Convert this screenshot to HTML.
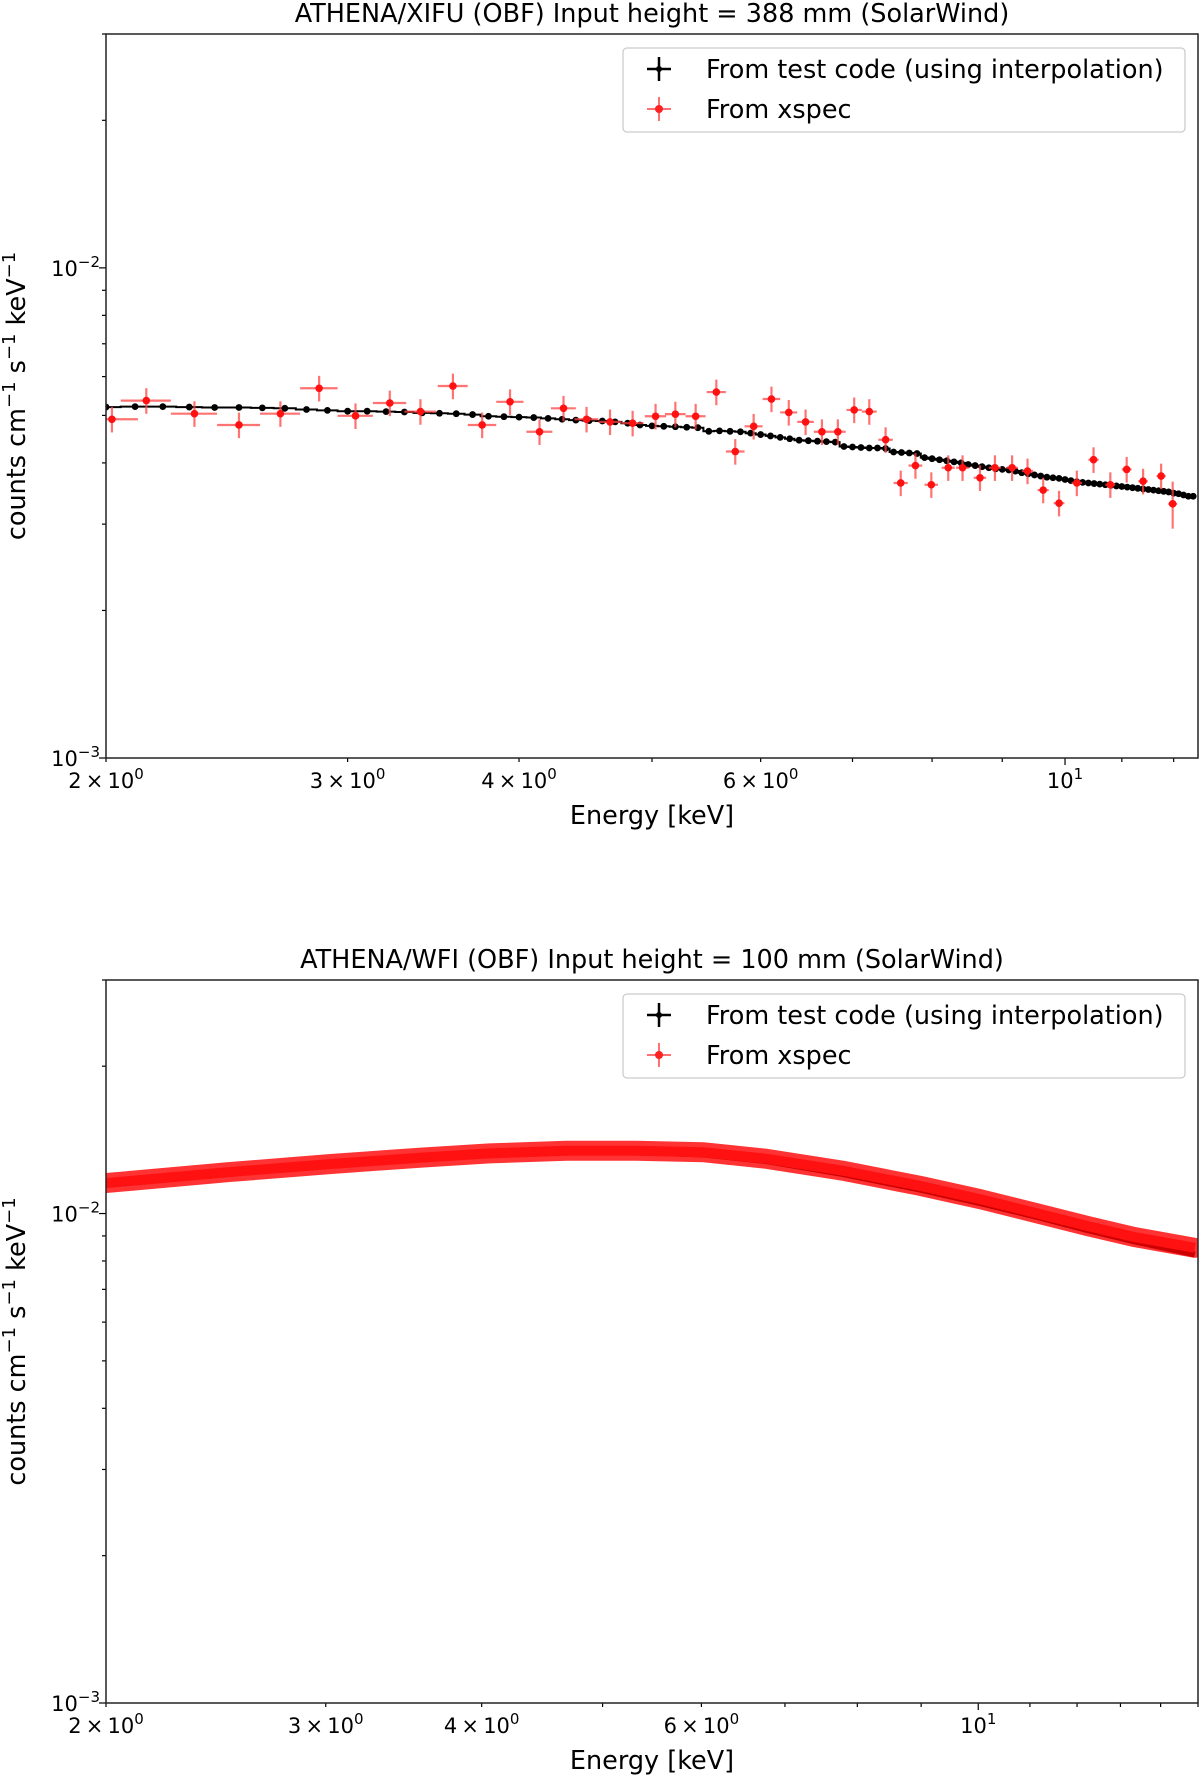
<!DOCTYPE html>
<html><head><meta charset="utf-8">
<style>
html,body{margin:0;padding:0;background:#fff;}
svg{display:block;font-family:"DejaVu Sans","Liberation Sans",sans-serif;}
</style></head>
<body>
<svg id="fig" width="1200" height="1777" viewBox="0 0 1200 1777" xmlns="http://www.w3.org/2000/svg"></svg>
<script>
// ---------- Data: top panel (XIFU) ----------
const xifuBlackE = [2.0,2.1,2.2,2.3,2.4,2.5,2.6,2.7,2.8,2.9,3.0,3.1,3.2,3.3,3.4,3.5,3.6,3.7,3.8,3.9,4.0,4.1,4.2,4.3,4.4,4.5,4.6,4.7,4.8,4.9,5.0,5.1,5.2,5.3,5.4,5.5,5.6,5.7,5.8,5.9,6.0,6.1,6.2,6.3,6.4,6.5,6.6,6.7,6.8,6.9,7.0,7.1,7.2,7.3,7.4,7.5,7.6,7.7,7.8,7.9,8.0,8.1,8.2,8.3,8.4,8.5,8.6,8.7,8.8,8.9,9.0,9.1,9.2,9.3,9.4,9.5,9.6,9.7,9.8,9.9,10.0,10.1,10.2,10.3,10.4,10.5,10.6,10.7,10.8,10.9,11.0,11.1,11.2,11.3,11.4,11.5,11.6,11.7,11.8,11.9,12.0,12.1,12.2,12.3,12.4];
const xifuBlackV = [5.20,5.21,5.21,5.20,5.19,5.19,5.18,5.17,5.14,5.12,5.10,5.10,5.09,5.08,5.06,5.05,5.04,5.02,4.98,4.97,4.96,4.95,4.93,4.91,4.89,4.88,4.87,4.85,4.82,4.78,4.76,4.75,4.74,4.73,4.72,4.64,4.65,4.64,4.63,4.60,4.57,4.54,4.51,4.48,4.45,4.44,4.43,4.42,4.41,4.32,4.31,4.30,4.29,4.29,4.28,4.21,4.20,4.19,4.18,4.10,4.08,4.06,4.04,4.02,4.00,3.97,3.95,3.93,3.91,3.89,3.88,3.87,3.85,3.82,3.80,3.78,3.76,3.74,3.73,3.72,3.70,3.68,3.66,3.65,3.64,3.63,3.62,3.61,3.60,3.59,3.58,3.57,3.56,3.55,3.54,3.53,3.52,3.51,3.50,3.49,3.47,3.46,3.44,3.42,3.42];
const xifuRedE = [2.02,2.14,2.32,2.50,2.68,2.86,3.04,3.22,3.39,3.58,3.76,3.94,4.14,4.31,4.48,4.66,4.84,5.03,5.20,5.38,5.57,5.75,5.93,6.11,6.29,6.47,6.65,6.83,7.02,7.20,7.40,7.59,7.78,7.99,8.22,8.42,8.67,8.89,9.15,9.39,9.64,9.90,10.20,10.49,10.79,11.09,11.40,11.75,11.98];
const xifuRedV = [4.91,5.36,5.04,4.78,5.04,5.68,4.99,5.30,5.09,5.74,4.78,5.33,4.63,5.17,4.91,4.85,4.82,4.98,5.03,4.98,5.58,4.22,4.75,5.40,5.07,4.85,4.63,4.63,5.13,5.09,4.46,3.64,3.95,3.61,3.91,3.91,3.73,3.91,3.91,3.85,3.52,3.31,3.64,4.06,3.61,3.88,3.67,3.76,3.30];
const xifuRedXErr = 0.09;
const xifuRedYErrFrac = 0.06;

// ---------- Data: bottom panel (WFI) ----------
const wfiE = [2.00,2.51,3.02,3.58,4.06,4.68,5.32,6.03,6.76,7.78,8.97,10.04,11.08,12.23,13.32,14.91];
const wfiRedV = [11.54,12.15,12.62,13.01,13.27,13.44,13.44,13.34,12.94,12.24,11.40,10.70,10.05,9.43,8.96,8.51];
const wfiBlackV = [11.45,12.05,12.52,12.92,13.18,13.35,13.35,13.20,12.80,12.05,11.20,10.50,9.88,9.25,8.78,8.25];

const xMajorTicks = [10];
const xMajorLabels = ["10", "1"];
const xMinorLabeled = [2,3,4,6];
const yMajor = [0.001, 0.01];
const yMajorExp = ["\u22123","\u22122"];

const NS = "http://www.w3.org/2000/svg";
const svg = document.getElementById('fig');
function mk(tag, attrs, parent){
  const e = document.createElementNS(NS, tag);
  for (const k in attrs) e.setAttribute(k, attrs[k]);
  (parent||svg).appendChild(e);
  return e;
}

function panel(cfg){
  const g = mk('g', {});
  
  
  const L=106, R=1198, T=cfg.top, B=cfg.bottom;
  const lx0=Math.log10(2), lx1=Math.log10(cfg.xmax);
  const ly0=-3, ly1=Math.log10(0.03);
  const X = e => L + (Math.log10(e)-lx0)/(lx1-lx0)*(R-L);
  const Y = v => B - (Math.log10(v)-ly0)/(ly1-ly0)*(B-T);

  const clipId = 'clip'+cfg.name;
  const defs = mk('defs', {}, g);
  const cp = mk('clipPath', {id: clipId}, defs);
  mk('rect', {x:L, y:T, width:R-L, height:B-T}, cp);

  const t = mk('text', {x:(L+R)/2, y:T-12, 'text-anchor':'middle', 'font-size':25.5, fill:'#000'}, g);
  t.textContent = cfg.title;
  
  

  const plot = mk('g', {'clip-path':'url(#'+clipId+')'}, g);
  
  
  cfg.draw(plot, X, Y);

  for (let v=2; v<=Math.floor(cfg.xmax); v++){
    const major = xMajorTicks.includes(v);
    const x = X(v);
    mk('line', {x1:x, x2:x, y1:B, y2:B+(major?7:4), stroke:'#000', 'stroke-width':1.2}, g);
    if (xMinorLabeled.includes(v)){
      const tl = mk('text', {x:x, y:B+30, 'text-anchor':'middle', 'font-size':21, fill:'#000'}, g);
      tl.textContent = v + '\u2009\u00d7\u200910';
      const sp = mk('tspan', {dy:-9, 'font-size':15}, tl);
      sp.textContent = '0';
      
      
    }
    if (major){
      const tl = mk('text', {x:x, y:B+30, 'text-anchor':'middle', 'font-size':21, fill:'#000'}, g);
      tl.textContent = xMajorLabels[0];
      const sp = mk('tspan', {dy:-9, 'font-size':15}, tl);
      sp.textContent = xMajorLabels[1];
      
      
    }
  }
  for (let d=-3; d<=-2; d++){
    for (let m=1; m<=9; m++){
      const v = m*Math.pow(10,d);
      if (v>0.03) break;
      const y = Y(v);
      mk('line', {x1:L, x2:L-(m===1?7:4), y1:y, y2:y, stroke:'#000', 'stroke-width':1.2}, g);
    }
  }
  yMajor.forEach((v,i)=>{
    const tl = mk('text', {x:L-6, y:Y(v)+8, 'text-anchor':'end', 'font-size':21, fill:'#000'}, g);
    tl.textContent = '10';
    const sp = mk('tspan', {dy:-9, 'font-size':15}, tl);
    sp.textContent = yMajorExp[i];
    
    
  });

  const fr = mk('rect', {x:L, y:T, width:R-L, height:B-T, fill:'none', stroke:'#222', 'stroke-width':1.5}, g);
  
  

  const xl = mk('text', {x:(L+R)/2, y:B+66, 'text-anchor':'middle', 'font-size':25.5, fill:'#000'}, g);
  xl.textContent = 'Energy [keV]';
  
  
  const yl = mk('text', {x:0, y:0, 'text-anchor':'middle', 'font-size':25.5, fill:'#000',
    transform:'translate(25,'+((T+B)/2)+') rotate(-90)'}, g);
  yl.textContent = 'counts cm';
  const s1 = mk('tspan', {dy:-10, 'font-size':18}, yl); s1.textContent='\u22121';
  const s2 = mk('tspan', {dy:10}, yl); s2.textContent=' s';
  const s3 = mk('tspan', {dy:-10, 'font-size':18}, yl); s3.textContent='\u22121';
  const s4 = mk('tspan', {dy:10}, yl); s4.textContent=' keV';
  const s5 = mk('tspan', {dy:-10, 'font-size':18}, yl); s5.textContent='\u22121';
  
  

  const lg = mk('g', {}, g);
  
  
  const ly = T+14;
  mk('rect', {x:623, y:ly, width:562, height:84, rx:4, fill:'#fff', 'fill-opacity':0.8, stroke:'#ccc', 'stroke-width':1.3}, lg);
  const e1 = mk('g', {}, lg);
  
  
  mk('line', {x1:647, x2:671, y1:ly+21, y2:ly+21, stroke:'#000', 'stroke-width':2.5}, e1);
  mk('line', {x1:659, x2:659, y1:ly+9, y2:ly+33, stroke:'#000', 'stroke-width':2.5}, e1);
  mk('circle', {cx:659, cy:ly+21, r:3, fill:'#000'}, e1);
  const tx1 = mk('text', {x:706, y:ly+30, 'font-size':25.5, fill:'#000'}, e1);
  tx1.textContent = 'From test code (using interpolation)';
  const e2 = mk('g', {}, lg);
  
  
  mk('line', {x1:647, x2:671, y1:ly+61, y2:ly+61, stroke:'#f33', 'stroke-opacity':0.7, 'stroke-width':2}, e2);
  mk('line', {x1:659, x2:659, y1:ly+49, y2:ly+73, stroke:'#f33', 'stroke-opacity':0.7, 'stroke-width':2}, e2);
  mk('circle', {cx:659, cy:ly+61, r:4, fill:'#f22'}, e2);
  const tx2 = mk('text', {x:706, y:ly+70, 'font-size':25.5, fill:'#000'}, e2);
  tx2.textContent = 'From xspec';
}

panel({
  name:'xifu-panel', top:34, bottom:758, xmax:12.5,
  title:'ATHENA/XIFU (OBF) Input height = 388 mm (SolarWind)',
  draw:(p, X, Y)=>{
    let d='';
    xifuBlackE.forEach((e,i)=>{
      const y=Y(xifuBlackV[i]*1e-3);
      const x0=X(e-0.05), x1=X(e+0.05);
      d += (i===0?'M':'L')+x0.toFixed(1)+','+y.toFixed(1)+' L'+x1.toFixed(1)+','+y.toFixed(1)+' ';
    });
    const bl = mk('path', {d:d, fill:'none', stroke:'#000', 'stroke-width':2}, p);
    
    
    xifuBlackE.forEach((e,i)=>{
      const c = mk('circle', {cx:X(e), cy:Y(xifuBlackV[i]*1e-3), r:3.4, fill:'#000'}, p);
      
      
    });
    xifuRedE.forEach((e,i)=>{
      const v=xifuRedV[i]*1e-3;
      const gr = mk('g', {}, p);
      
      
      const yerr = (i===xifuRedE.length-1?0.11:xifuRedYErrFrac);
      mk('line', {x1:X(e-xifuRedXErr), x2:X(e+xifuRedXErr), y1:Y(v), y2:Y(v), stroke:'#f44', 'stroke-opacity':0.75, 'stroke-width':2.2}, gr);
      mk('line', {x1:X(e), x2:X(e), y1:Y(v*(1-yerr)), y2:Y(v*(1+yerr)), stroke:'#f44', 'stroke-opacity':0.75, 'stroke-width':2.2}, gr);
      mk('circle', {cx:X(e), cy:Y(v), r:3.8, fill:'#f11'}, gr);
    });
  }
});

panel({
  name:'wfi-panel', top:980, bottom:1703, xmax:15,
  title:'ATHENA/WFI (OBF) Input height = 100 mm (SolarWind)',
  draw:(p, X, Y)=>{
    const pts = arr => wfiE.map((e,i)=>X(e).toFixed(1)+','+Y(arr[i]*1e-3).toFixed(1)).join(' ');
    const bk = mk('polyline', {points:pts(wfiBlackV), fill:'none', stroke:'#000', 'stroke-width':6, 'stroke-linejoin':'round'}, p);
    
    
    const rd = mk('polyline', {points:pts(wfiRedV), fill:'none', stroke:'#f00', 'stroke-opacity':0.8, 'stroke-width':20, 'stroke-linejoin':'round', 'stroke-linecap':'round'}, p);
    
    
    const rd2 = mk('polyline', {points:pts(wfiRedV), fill:'none', stroke:'#f11', 'stroke-width':10, 'stroke-linejoin':'round'}, p);
    
    
  }
});
</script>
</body></html>
